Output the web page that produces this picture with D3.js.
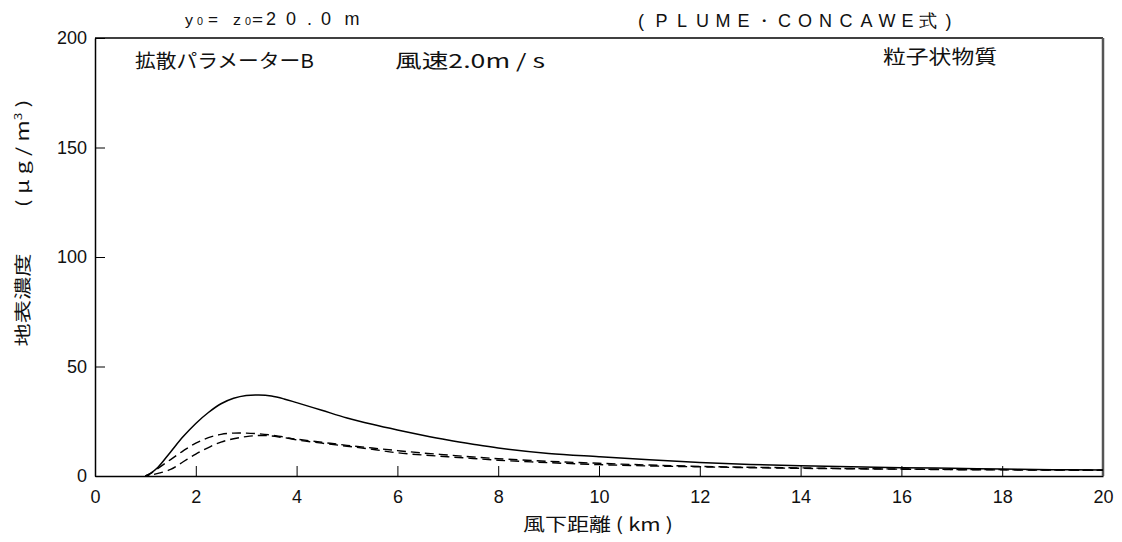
<!DOCTYPE html>
<html><head><meta charset="utf-8">
<script src="https://cdn.jsdelivr.net/npm/d3@7"></script>
<style>body{margin:0;background:#fff}svg{display:block}</style>
</head><body>
<script>
const distKm = [1.0,1.1,1.25,1.5,1.75,2.0,2.25,2.5,2.75,3.0,3.25,3.5,3.75,4.0,4.5,5,5.5,6,6.5,7,7.5,8,9,10,11,12,13,14,15,16,17,18,19,20];
const solidConc = [0,1.2,4,11,18,24,29,33,35.5,36.8,37,36.5,35.2,33.5,30,26.5,23.6,21,18.6,16.4,14.5,12.8,10.3,8.8,7.4,6.2,5.3,4.7,4.2,3.8,3.5,3.2,2.9,2.7];
const dashConcA = [0,1.1,3.5,7.5,11.5,15,17.5,19,19.6,19.6,19.3,18.7,17.8,16.5,15.0,13.6,12.2,10.6,9.6,8.8,8.0,7.2,6.1,5.2,4.6,4.2,3.8,3.5,3.3,3.1,2.9,2.8,2.7,2.6];
const dashConcB = [0,0.4,1.2,3,6.5,10,13,15.5,17,18,18.5,18.3,17.5,16.8,15.4,14.0,12.8,11.6,10.5,9.6,8.7,7.9,6.7,5.8,5.0,4.4,4.0,3.7,3.4,3.2,3.0,2.9,2.7,2.6];
const xTicks = [0,2,4,6,8,10,12,14,16,18,20];
const yTicks = [0,50,100,150,200];

const W = 1122, H = 542;
const L = 95, R = 1103, T = 38, B = 476;
const svg = d3.select("body").append("svg").attr("width", W).attr("height", H);
const x = d3.scaleLinear().domain([0,20]).range([L,R]);
const y = d3.scaleLinear().domain([0,200]).range([B,T]);
const latin = "'Liberation Sans', Arial, sans-serif";
const cjk = "'Noto Sans CJK JP', sans-serif";

// axes
const xAxis = d3.axisBottom(x).tickValues(xTicks).tickSizeInner(-10).tickSizeOuter(0).tickPadding(18).tickFormat(d3.format("d"));
const gx = svg.append("g").attr("transform", `translate(0,${B})`).call(xAxis);
const yAxis = d3.axisLeft(y).tickValues(yTicks).tickSizeInner(-10).tickSizeOuter(0).tickPadding(17).tickFormat(d3.format("d"));
const gy = svg.append("g").attr("transform", `translate(${L},0)`).call(yAxis);
[gx, gy].forEach(g => {
  g.selectAll("path.domain").attr("stroke", "#000").attr("stroke-width", 1.5);
  g.selectAll(".tick line").attr("stroke", "#000").attr("stroke-width", 1);
  g.selectAll(".tick text").attr("font-family", latin).attr("font-size", 18).attr("fill", "#111");
});
gx.selectAll(".tick text").attr("dy", "0.5em");
gy.selectAll(".tick text").attr("dx", "9");
// top and right frame
svg.append("line").attr("x1", L).attr("x2", R).attr("y1", T).attr("y2", T).attr("stroke", "#000").attr("stroke-width", 1.5);
svg.append("line").attr("x1", R).attr("x2", R).attr("y1", T).attr("y2", B).attr("stroke", "#555").attr("stroke-width", 2.5);

// curves
const line = vals => d3.line().x((d,i) => x(distKm[i])).y(d => y(d)).curve(d3.curveCatmullRom.alpha(0.5))(vals);
svg.append("path").attr("d", line(solidConc)).attr("fill", "none").attr("stroke", "#000").attr("stroke-width", 1.5);
svg.append("path").attr("d", line(dashConcA)).attr("fill", "none").attr("stroke", "#000").attr("stroke-width", 1.4).attr("stroke-dasharray", "9,5");
svg.append("path").attr("d", line(dashConcB)).attr("fill", "none").attr("stroke", "#000").attr("stroke-width", 1.4).attr("stroke-dasharray", "9,5").attr("stroke-dashoffset", 5);

// titles
const txt = (s, xx, yy, size, fam, len, anchor) => {
  const t = svg.append("text").attr("x", xx).attr("y", yy).attr("font-size", size).attr("font-family", fam).attr("fill", "#111").text(s);
  if (anchor) t.attr("text-anchor", anchor);
  if (len) t.attr("textLength", len).attr("lengthAdjust", "spacingAndGlyphs");
  return t;
};
// characters centred on given positions
const centred = (s, xs, yy, size, fam) => {
  svg.append("text").attr("y", yy).attr("font-size", size).attr("font-family", fam).attr("fill", "#111")
    .attr("text-anchor", "middle").attr("x", xs.join(" ")).text(s);
};
txt("y", 185, 25, 14, latin, 8);
txt("0", 197, 25, 11, latin, 6);
txt("=", 208, 25, 14, latin, 10);
txt("z", 233, 25, 14, latin, 8);
txt("0", 245, 25, 11, latin, 6);
txt("=", 252, 25, 14, latin, 11);
centred("20.0m", [271, 291, 309.5, 326, 352], 25, 18, latin);
centred("(PLUME・CONCAWE式)", d3.range(16).map(i => 641 + i * 20.5), 27, 18, latin);
txt("拡散パラメーターB", 135, 68, 19, cjk, 179);
txt("風速2.0m / s", 395, 68, 19, cjk, 150);
txt("粒子状物質", 883, 64, 19, cjk, 114);

// axis titles
txt("風下距離 ( km )", 598, 531, 18, cjk, 150, "middle");
const yl = svg.append("text").attr("transform", "translate(29,223) rotate(-90)")
  .attr("text-anchor", "middle").attr("font-family", cjk).attr("font-size", 17).attr("fill", "#111")
  .attr("textLength", 247).attr("lengthAdjust", "spacingAndGlyphs");
yl.append("tspan").text("地表濃度　　( μ g / m");
yl.append("tspan").attr("font-size", 10).attr("dy", -7).text("3");
yl.append("tspan").attr("dy", 7).text(" )");
</script>
</body></html>
